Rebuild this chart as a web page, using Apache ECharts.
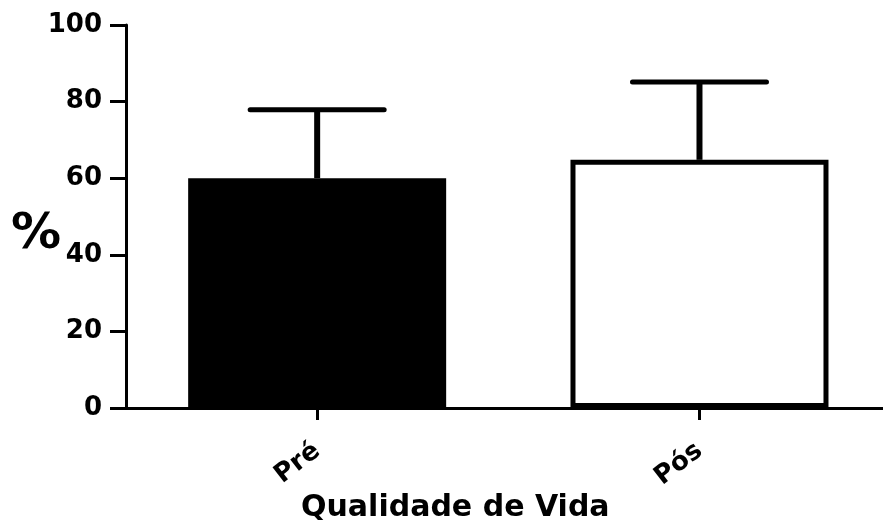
<!DOCTYPE html>
<html>
<head>
<meta charset="utf-8">
<script src="https://cdn.jsdelivr.net/npm/echarts@6/dist/echarts.min.js"></script>
<style>html,body{margin:0;padding:0;background:#fff}#c{width:883px;height:522px}</style>
</head>
<body>
<div id="c"></div>
<script>
const categories = ['Pré', 'Pós'];
const means = [60, 64.8];
const upperErr = [77.9, 85.1];
const yTicks = [0, 20, 40, 60, 80, 100];

const FONT = 'DejaVu Sans';
const catIdx = categories.map((c, i) => i);
const chart = echarts.init(document.getElementById('c'));
chart.setOption({
  animation: false,
  grid: { left: 126, right: 0, top: 25, bottom: 114, containLabel: false },
  xAxis: {
    type: 'value',
    min: -0.5, max: 1.48,
    splitLine: { show: false },
    axisLine: { onZero: false, lineStyle: { color: '#000', width: 3 } },
    axisTick: { show: true, customValues: catIdx, length: 12, lineStyle: { color: '#000', width: 3 } },
    axisLabel: {
      customValues: catIdx,
      formatter: v => categories[Math.round(v)],
      rotate: 38, margin: 40, color: '#000', fontFamily: FONT, fontWeight: 'bold', fontSize: 26
    }
  },
  yAxis: {
    type: 'value',
    min: yTicks[0], max: yTicks[yTicks.length - 1], interval: 20,
    splitLine: { show: false },
    axisLine: { show: true, onZero: false, lineStyle: { color: '#000', width: 3 } },
    axisTick: { show: true, length: 16, lineStyle: { color: '#000', width: 3 } },
    axisLabel: { margin: 24, color: '#000', fontFamily: FONT, fontWeight: 'bold', fontSize: 26 }
  },
  graphic: [
    { type: 'text', left: 11, top: 210, style: { text: '%', fill: '#000', font: 'bold 50px "DejaVu Sans"' } },
    { type: 'text', left: 301, top: 493, style: { text: 'Qualidade de Vida', fill: '#000', font: 'bold 30px "DejaVu Sans"' } }
  ],
  series: [
    {
      type: 'bar',
      barWidth: 258,
      data: means.map((v, i) => ({
        value: [i, v],
        itemStyle: { color: i === 0 ? '#000' : '#fff', borderColor: '#000', borderWidth: 5 }
      })),
      z: 2
    },
    {
      type: 'custom',
      z: 1,
      data: catIdx.map(i => [i, means[i], upperErr[i]]),
      renderItem: function (params, api) {
        const base = api.coord([api.value(0), api.value(1)]);
        const top = api.coord([api.value(0), api.value(2)]);
        const hw = 67;
        return {
          type: 'group',
          children: [
            { type: 'line', shape: { x1: base[0], y1: base[1], x2: top[0], y2: top[1] }, style: { stroke: '#000', lineWidth: 6 } },
            { type: 'line', shape: { x1: top[0] - hw, y1: top[1], x2: top[0] + hw, y2: top[1] }, style: { stroke: '#000', lineWidth: 5, lineCap: 'round' } }
          ]
        };
      }
    }
  ]
});
</script>
</body>
</html>
